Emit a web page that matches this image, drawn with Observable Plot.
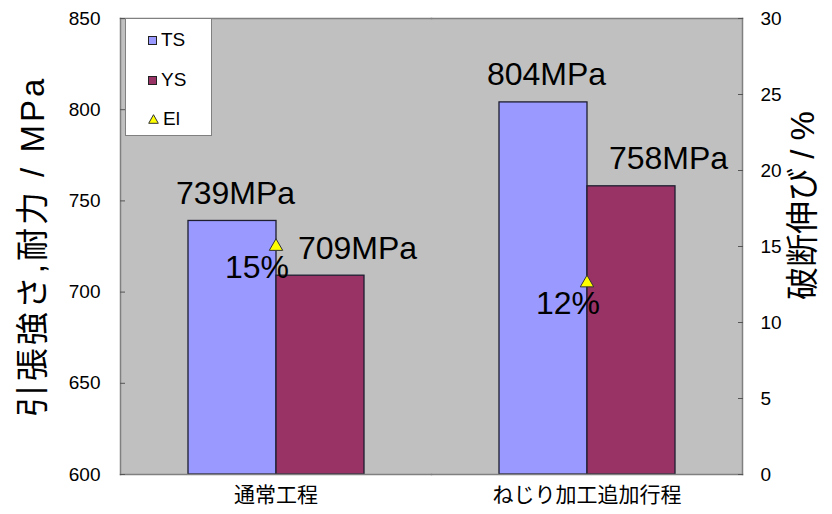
<!DOCTYPE html>
<html><head><meta charset="utf-8">
<script src="https://cdn.jsdelivr.net/npm/d3@7"></script>
<script src="https://cdn.jsdelivr.net/npm/@observablehq/plot@0.6"></script>
<style>
body{margin:0;background:#fff;}
#wrap{position:relative;width:832px;height:514px;font-family:"Liberation Sans",Arial,"Noto Sans CJK JP",sans-serif;}
#legend{position:absolute;left:125px;top:18px;width:87px;height:118px;background:#fff;border:1px solid #808080;box-sizing:border-box;font-size:19px;color:#000;}
.item{position:absolute;left:22px;height:20px;display:flex;align-items:center;}
.item svg{margin-right:4px;}
</style></head><body><div id="wrap"></div>
<script>
const processes = ["通常工程", "ねじり加工追加行程"];
const metrics = ["TS", "YS"];
const tsValues = [739, 804];
const ysValues = [709, 758];
const elValues = [15, 12.6];
const elLabels = ["15%", "12%"];
const legendLabels = ["TS", "YS", "El"];
const yTicks = [600, 650, 700, 750, 800, 850];
const y2Ticks = [0, 5, 10, 15, 20, 25, 30];
const yTitle = "引張強さ,耐力 / MPa";
const y2Title = "破断伸び / %";
const unit = "MPa";

const barColors = ["#9999ff", "#993366"];
const elColor = "#ffff00";

const yMin = yTicks[0], yMax = yTicks[yTicks.length - 1];
const y2Max = y2Ticks[y2Ticks.length - 1];
const toY = v => yMin + v * (yMax - yMin) / y2Max;
const fromY = v => Math.round((v - yMin) * y2Max / (yMax - yMin));

const bars = processes.flatMap((p, i) => [
  {process: p, metric: metrics[0], value: tsValues[i]},
  {process: p, metric: metrics[1], value: ysValues[i]}
]);
const el = processes.map((p, i) => ({process: p, value: elValues[i], label: elLabels[i]}));

const font = '"Liberation Sans", Arial, "Noto Sans CJK JP", sans-serif';

const chart = Plot.plot({
  width: 832, height: 514,
  marginTop: 18, marginBottom: 40, marginLeft: 120, marginRight: 90,
  style: {fontFamily: font, fontSize: "19px", background: "#fff", color: "#000"},
  fx: {domain: processes, padding: 0, label: null},
  x: {domain: metrics, paddingInner: 0, paddingOuter: 0.75, axis: null},
  y: {domain: [yMin, yMax], label: null},
  color: {domain: metrics, range: barColors},
  marks: [
    Plot.frame({fill: "#c0c0c0", stroke: "#c0c0c0", strokeWidth: 1}),
    Plot.barY(bars, {fx: "process", x: "metric", y1: yMin, y2: "value", fill: "metric", stroke: "#1e1e30", strokeWidth: 1.3}),
    Plot.frame({anchor: "top", stroke: "#808080", strokeWidth: 1.5}),
    Plot.frame({anchor: "bottom", stroke: "#808080", strokeWidth: 1.5}),
    Plot.frame({anchor: "left", facetAnchor: "left", stroke: "#808080", strokeWidth: 1.5}),
    Plot.frame({anchor: "right", facetAnchor: "right", stroke: "#808080", strokeWidth: 1.5}),
    Plot.axisY(yTicks, {anchor: "left", tickSize: 5, dx: 5, tickPadding: 20, fontSize: 19, stroke: "#555", label: null}),
    Plot.axisY(y2Ticks.map(toY), {anchor: "right", tickSize: 5, dx: -5, tickPadding: 18, fontSize: 19, stroke: "#555", tickFormat: fromY, label: null}),
    Plot.axisFx({anchor: "bottom", tickSize: 0, tickPadding: 13, fontSize: 21, label: null}),
    Plot.text(bars.filter(d => d.metric === metrics[0]), {fx: "process", x: "metric", y: "value", text: d => d.value + unit, lineAnchor: "bottom", dy: -17, dx: 3, fontSize: 32}),
    Plot.text(bars.filter(d => d.metric === metrics[1]), {fx: "process", x: "metric", y: "value", text: d => d.value + unit, lineAnchor: "bottom", dy: -17, dx: 37, fontSize: 32}),
    Plot.dot(el, {fx: "process", y: d => toY(d.value), symbol: "triangle", r: 5, fill: elColor, stroke: "#333", strokeWidth: 1}),
    Plot.text(el, {fx: "process", y: d => toY(d.value), text: "label", lineAnchor: "bottom", dx: -19, dy: 31, fontSize: 32}),
    Plot.text([yTitle], {fx: () => processes[0], frameAnchor: "left", textAnchor: "middle", dx: -87, rotate: -90, fontSize: 33, style: "letter-spacing:3px"}),
    Plot.text([y2Title], {fx: () => processes[processes.length - 1], frameAnchor: "right", textAnchor: "middle", dx: 61, dy: -41, rotate: -90, fontSize: 33})
  ]
});

const wrap = document.getElementById("wrap");
wrap.appendChild(chart);
// letter spacing for the left axis title
chart.querySelectorAll("text").forEach(t => { if (t.textContent === yTitle) t.setAttribute("letter-spacing", "3"); });

const legend = document.createElement("div");
legend.id = "legend";
const swatches = [
  `<svg width="9" height="9"><rect x="0.5" y="0.5" width="8" height="8" fill="${barColors[0]}" stroke="#222"/></svg>`,
  `<svg width="9" height="9"><rect x="0.5" y="0.5" width="8" height="8" fill="${barColors[1]}" stroke="#222"/></svg>`,
  `<svg width="11" height="10"><path d="M5.5,0.7 L10.3,9.3 L0.7,9.3 Z" fill="${elColor}" stroke="#333"/></svg>`
];
const tops = [11, 51, 90];
legendLabels.forEach((lab, i) => {
  const it = document.createElement("div");
  it.className = "item";
  it.style.top = tops[i] + "px";
  it.innerHTML = swatches[i] + `<span>${lab}</span>`;
  legend.appendChild(it);
});
wrap.appendChild(legend);
</script>
</body></html>
